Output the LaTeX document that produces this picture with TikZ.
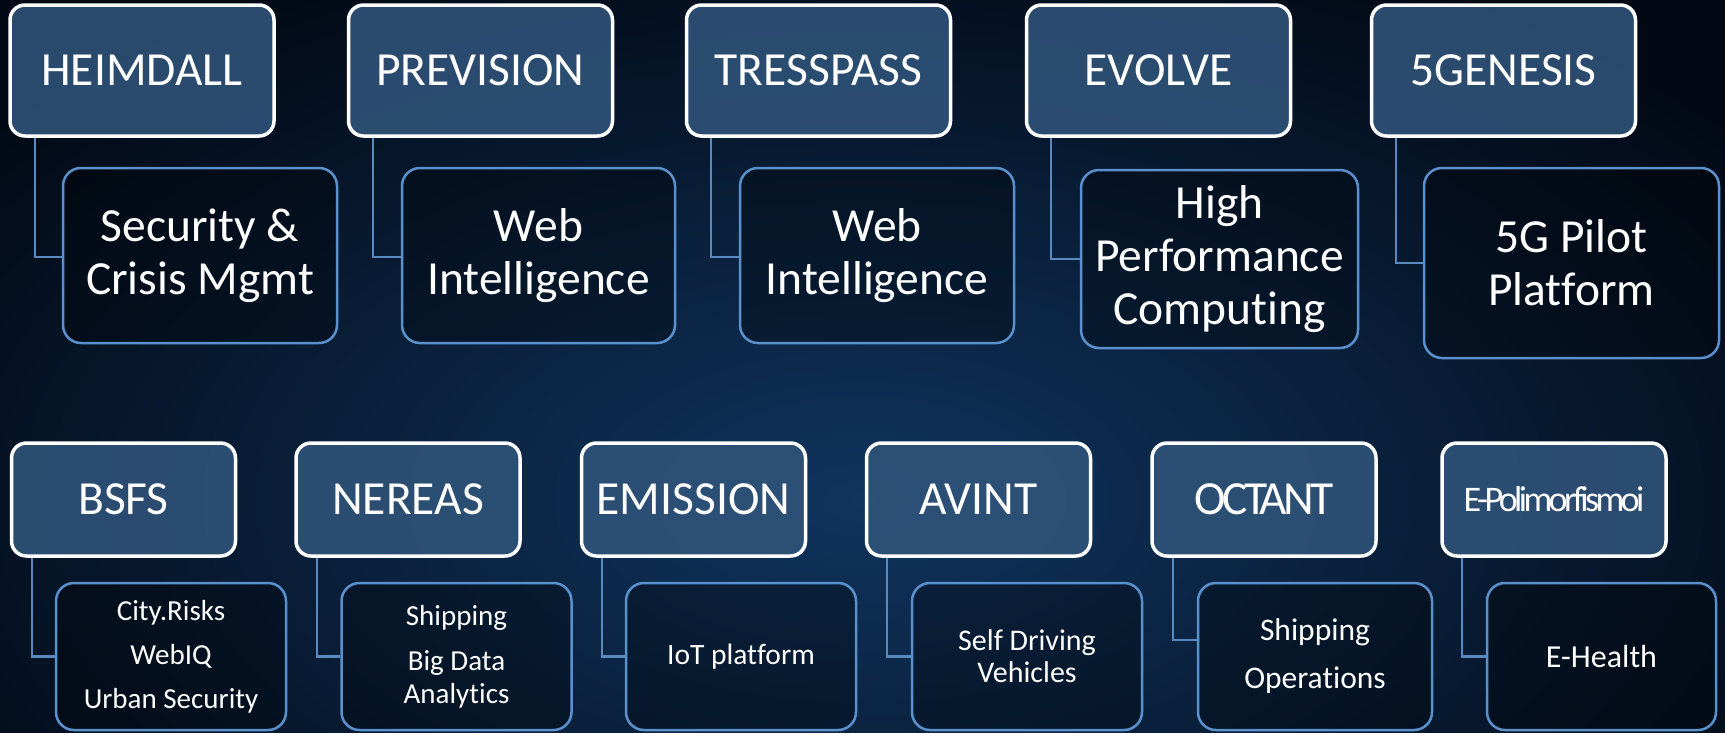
\documentclass[tikz,border=0pt]{standalone}
\usepackage{fontspec}
\setmainfont{Carlito}[RawFeature={-liga}]
\newfontfamily\tightfont{Carlito}[LetterSpace=-8,RawFeature={-liga}]
\newfontfamily\tighterfont{Carlito}[LetterSpace=-10,RawFeature={-liga}]
\definecolor{bgL}{RGB}{2,9,20}
\definecolor{bgM}{RGB}{16,52,94}
\definecolor{pfill}{RGB}{48,84,122}
\definecolor{cline}{RGB}{90,145,205}
\definecolor{conncol}{RGB}{88,138,192}
\begin{document}
\begin{tikzpicture}[x=1pt,y=-1pt,
  parent/.style={draw=white, line width=3.5pt, rounded corners=15pt, fill=pfill, fill opacity=0.88, text opacity=1, text=white, align=center, inner sep=0pt},
  child/.style={draw=cline, line width=2.5pt, rounded corners=18pt, fill=black, fill opacity=0.3, text opacity=1, text=white, align=center, inner sep=0pt},
  ptop/.style={parent, minimum width=264pt, minimum height=131pt, font=\fontsize{47.5}{56}\selectfont},
  pbot/.style={parent, minimum width=224pt, minimum height=113pt, font=\fontsize{47.5}{56}\selectfont},
  ctop/.style={child, font=\fontsize{47.5}{53}\selectfont},
  cbot/.style={child, minimum width=230pt, minimum height=147pt},
  conn/.style={draw=conncol, line width=2.2pt}]
\useasboundingbox (0,0) rectangle (1725,732);
\shade[inner color=bgM, outer color=bgL] (-250,-100) rectangle (1975,1100);

% top row parents
\node[ptop] (h1) at (142,70.5) {HEIMDALL};
\node[ptop] (h2) at (480.5,70.5) {PREVISION};
\node[ptop] (h3) at (818.5,70.5) {TRESSPASS};
\node[ptop] (h4) at (1158.5,70.5) {EVOLVE};
\node[ptop] (h5) at (1503.5,70.5) {5GENESIS};

% top row children
\node[ctop, minimum width=274pt, minimum height=175pt] (c1) at (200,255.5) {Security \&\\Crisis Mgmt};
\node[ctop, minimum width=273pt, minimum height=175pt] (c2) at (538.5,255.5) {Web\\Intelligence};
\node[ctop, minimum width=274pt, minimum height=175pt] (c3) at (877,255.5) {Web\\Intelligence};
\node[ctop, minimum width=277pt, minimum height=178pt] (c4) at (1219.5,259) {High\\Performance\\Computing};
\node[ctop, minimum width=295pt, minimum height=190pt] (c5) at (1571.5,263) {5G Pilot\\Platform};

\draw[conn] ([xshift=27pt]h1.south west) |- ([yshift=-1.5pt]c1.west);
\draw[conn] ([xshift=26pt]h2.south west) |- ([yshift=-1.5pt]c2.west);
\draw[conn] ([xshift=26pt]h3.south west) |- ([yshift=-1.5pt]c3.west);
\draw[conn] ([xshift=26pt]h4.south west) |- (c4.west);
\draw[conn] ([xshift=26pt]h5.south west) |- (c5.west);

% bottom row parents
\node[pbot] (b1) at (123.5,499.5) {BSFS};
\node[pbot] (b2) at (408,499.5) {NEREAS};
\node[pbot] (b3) at (693.5,499.5) {EMISSION};
\node[pbot] (b4) at (978.5,499.5) {AVINT};
\node[pbot] (b5) at (1264,499.5) {\tightfont OCTANT};
\node[pbot] (b6) at (1554,499.5) {\tighterfont\fontsize{36}{40}\selectfont E-Polimorfismoi};

% bottom row children
\node[cbot, font=\fontsize{29}{44}\selectfont] (d1) at (171,656.5) {City.Risks\\WebIQ\\Urban Security};
\node[cbot, font=\fontsize{29}{33}\selectfont] (d2) at (456.5,656.5) {Shipping\\[12pt]Big Data\\Analytics};
\node[cbot, font=\fontsize{29.5}{34}\selectfont] (d3) at (741,656.5) {IoT platform};
\node[cbot, font=\fontsize{30}{32}\selectfont] (d4) at (1027,656.5) {Self Driving\\Vehicles};
\node[cbot, minimum width=234pt, font=\fontsize{31.5}{48}\selectfont] (d5) at (1315,656.5) {Shipping\\Operations};
\node[cbot, minimum width=229pt, font=\fontsize{32}{36}\selectfont] (d6) at (1601.5,656.5) {E-Health};

\draw[conn] ([xshift=22pt]b1.south west) |- (d1.west);
\draw[conn] ([xshift=23pt]b2.south west) |- (d2.west);
\draw[conn] ([xshift=22pt]b3.south west) |- (d3.west);
\draw[conn] ([xshift=22pt]b4.south west) |- (d4.west);
\draw[conn] ([xshift=23pt]b5.south west) |- ([yshift=16.5pt]d5.west);
\draw[conn] ([xshift=22pt]b6.south west) |- (d6.west);
\end{tikzpicture}
\end{document}
